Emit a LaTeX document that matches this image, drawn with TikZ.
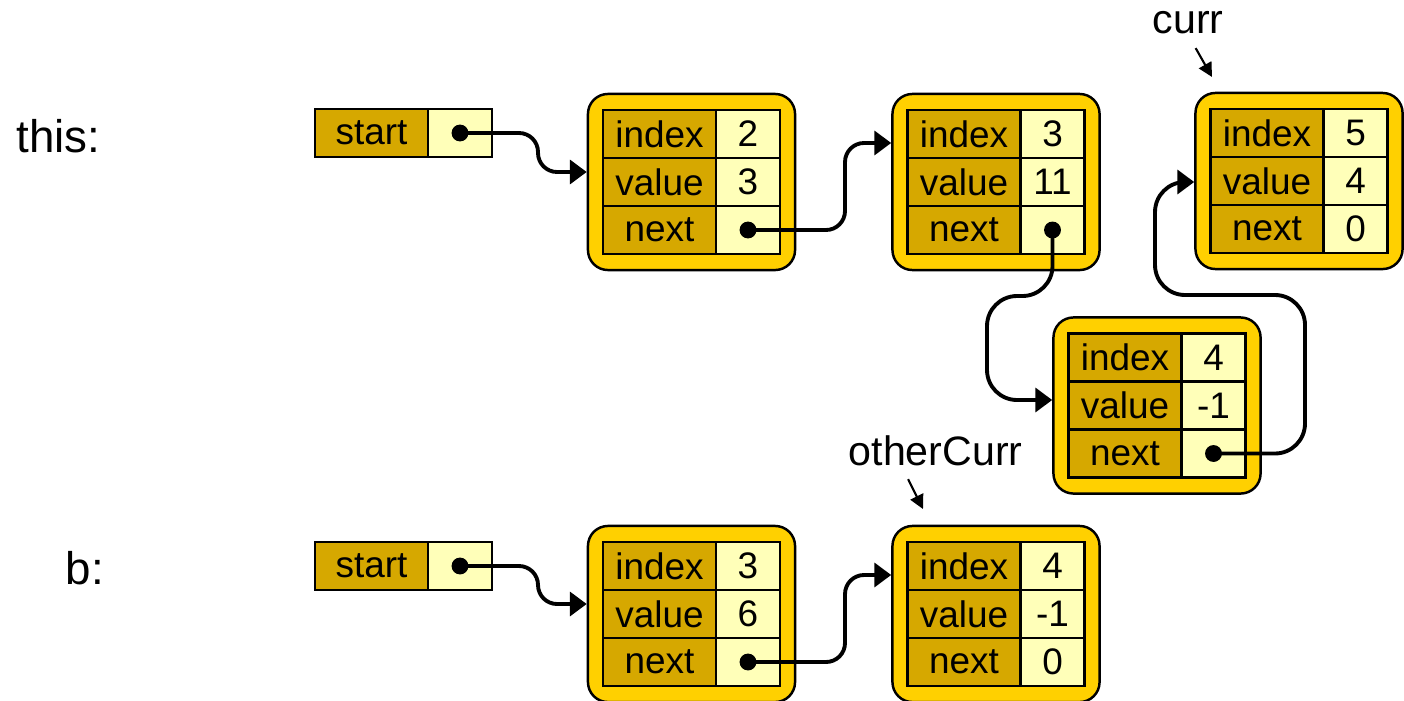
\documentclass[tikz,border=0pt]{standalone}
\usepackage{fontspec}
\setmainfont{Liberation Sans}
\usetikzlibrary{arrows.meta}

\definecolor{boxgold}{RGB}{255,208,0}
\definecolor{fieldgold}{RGB}{214,168,0}
\definecolor{slotyellow}{RGB}{255,255,185}

\begin{document}
\begin{tikzpicture}[x=0.01cm,y=-0.01cm,>={Triangle[length=4.8pt,width=6.8pt]},
    record/.style={draw,line width=0.7pt,fill=boxgold,rounded corners=0.2cm,
      minimum width=2.07cm,minimum height=1.76cm},
    field/.style={draw,line width=0.7pt,fill=fieldgold,inner sep=0pt,
      minimum width=1.13cm,minimum height=0.48cm,font=\fontsize{10.5}{12}\selectfont},
    slot/.style={field,fill=slotyellow,minimum width=0.64cm},
    pointer/.style={->,line width=1.1pt,rounded corners=0.19cm},
    tag/.style={inner sep=0pt,anchor=base west,font=\fontsize{11.7}{14}\selectfont},
    varname/.style={inner sep=0pt,anchor=base west,font=\fontsize{13}{15}\selectfont},
    marker/.style={-{Triangle[length=4pt,width=4pt]},line width=0.6pt}]
    \useasboundingbox (0,0) rectangle (1404,700);
    % list nodes: name / centre / index / value / next
    \foreach \nm/\cx/\cy/\idx/\val/\nxt in {n1/691.5/182/2/3/{},
        n2/996/182/3/11/{}, n3/1299/181/5/4/0, n4/1157/405.5/4/-1/{},
        n5/691.5/614/3/6/{}, n6/996/614/4/-1/0} {
      \node[record] (\nm) at (\cx,\cy) {};
      \node[field] (\nm-i) at (\cx-32,\cy-48) {index};
      \node[field] (\nm-v) at (\cx-32,\cy) {value};
      \node[field] (\nm-n) at (\cx-32,\cy+48) {next};
      \node[slot] (\nm-iv) at (\cx+56.5,\cy-48) {\idx};
      \node[slot] (\nm-vv) at (\cx+56.5,\cy) {\val};
      \node[slot] (\nm-nv) at (\cx+56.5,\cy+48) {\nxt};
    }
    % the two start fields
    \node[field] (s1-l) at (371.5,133) {start};
    \node[slot] (s1) at (460,133) {};
    \node[field] (s2-l) at (371.5,566) {start};
    \node[slot] (s2) at (460,566) {};
    \node[varname] (this) at (16,152) {this:};
    \node[varname] (b) at (65,584) {b:};
    \node[tag] (curr) at (1152,33) {curr};
    \node[tag] (other) at (848,465) {otherCurr};
    \coordinate (curr-to) at (1212,77);
    \coordinate (other-to) at (923,509);
    \draw[marker] ([shift={(7.5,14)}]curr.south) -- (curr-to);
    \draw[marker] ([shift={(-27.5,13)}]other.south) -- (other-to);
    % pointers
    \foreach \p in {s1,s2,n1-nv,n2-nv,n4-nv,n5-nv}
      \fill (\p.center) circle[radius=2.4pt];
    \draw[pointer] (s1.center) -- (538,133) -- (538,172) -- ([yshift=0.1cm]n1.west);
    \draw[pointer] (n1-nv.center) -- (845,230) -- (845,143) -- ([yshift=0.39cm]n2.west);
    \draw[pointer,rounded corners=0.3cm] (n2-nv.center) -- (1052.5,296) -- (987,296)
      -- (987,400) -- ([yshift=0.055cm]n4.west);
    \draw[pointer,rounded corners=0.3cm] (n4-nv.center) -- (1305,453.5) -- (1305,295)
      -- (1155,295) -- (1155,182) -- ([yshift=-0.01cm]n3.west);
    \draw[pointer] (s2.center) -- (538,566) -- (538,604) -- ([yshift=0.1cm]n5.west);
    \draw[pointer] (n5-nv.center) -- (845,662) -- (845,575) -- ([yshift=0.39cm]n6.west);
\end{tikzpicture}
\end{document}
